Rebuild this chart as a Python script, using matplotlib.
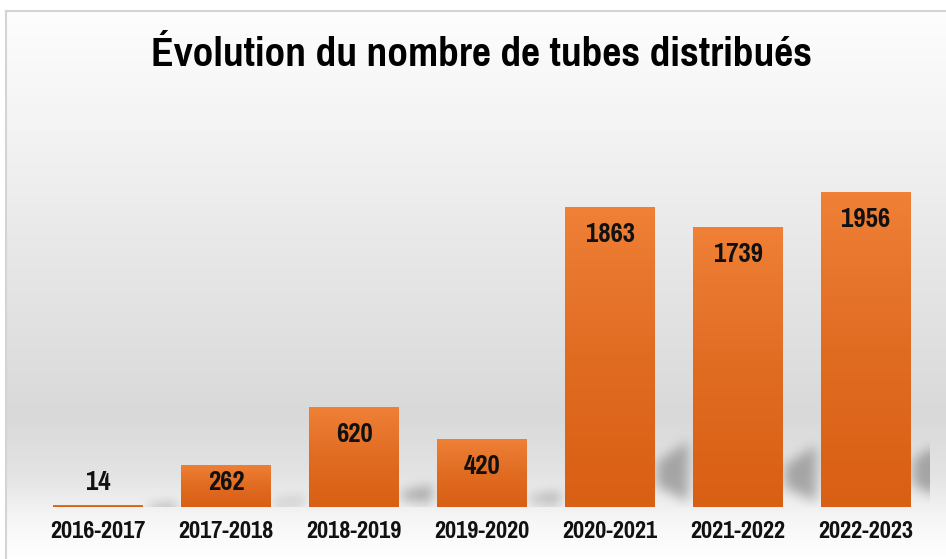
import numpy as np
import matplotlib
matplotlib.use('Agg')
import matplotlib.pyplot as plt
from matplotlib.patches import Rectangle
from matplotlib.path import Path
from matplotlib.colors import LinearSegmentedColormap

# données
saisons = ['2016-2017', '2017-2018', '2018-2019', '2019-2020',
           '2020-2021', '2021-2022', '2022-2023']
tubes = [14, 262, 620, 420, 1863, 1739, 1956]
titre = 'Évolution du nombre de tubes distribués'

W, H = 946, 559
police = ['Pragati Narrow', 'Archivo Narrow', 'DejaVu Sans']


def flou(a, r, n=3):
    # flou en boîte répété (approche gaussienne)
    for _ in range(n):
        for ax_ in (0, 1):
            p = np.pad(a, [(r, r) if k == ax_ else (0, 0) for k in range(2)], mode='edge')
            c = np.cumsum(p, axis=ax_)
            c = np.insert(c, 0, 0, axis=ax_)
            if ax_ == 0:
                a = (c[2 * r + 1:, :] - c[:-2 * r - 1, :]) / (2 * r + 1)
            else:
                a = (c[:, 2 * r + 1:] - c[:, :-2 * r - 1]) / (2 * r + 1)
    return a


fig = plt.figure(figsize=(W / 100, H / 100), dpi=100)
fig.patch.set_facecolor('white')

# fond dégradé avec cadre gris
bg = fig.add_axes([6 / W, 0, 1 - 6 / W, (H - 11) / H], zorder=-5)
stops = [(0.0, '#fdfdfd'), (0.18, '#f5f5f5'), (0.45, '#e7e7e7'),
         (0.74, '#d9d9d9'), (0.85, '#e4e4e4'), (0.93, '#f6f6f6'), (1.0, '#ffffff')]
cm_bg = LinearSegmentedColormap.from_list('bg', stops)
bg.imshow(np.linspace(0, 1, 256).reshape(-1, 1), aspect='auto', cmap=cm_bg,
          extent=[0, 1, 1, 0])
bg.set_xlim(0, 1)
bg.set_ylim(1, 0)
bg.set_xticks([])
bg.set_yticks([])
for s in ['right', 'bottom']:
    bg.spines[s].set_visible(False)
for s in ['left', 'top']:
    bg.spines[s].set_color('#d4d4d4')
    bg.spines[s].set_linewidth(1.5)

# axes du graphique
aw, ah = 896, 338
ax = fig.add_axes([34 / W, 52 / H, aw / W, ah / H])
xmin, xmax, ymax = -0.5, len(saisons) - 0.5, 2100
ax.set_xlim(xmin, xmax)
ax.set_ylim(0, ymax)
ax.axis('off')

larg = 0.7
x = np.arange(len(saisons))

# ombres portées
gx = xmin + (np.arange(aw) + 0.5) / aw * (xmax - xmin)
gy = ymax - (np.arange(ah) + 0.5) / ah * ymax
GX, GY = np.meshgrid(gx, gy)
pts = np.column_stack([GX.ravel(), GY.ravel()])
masque = np.zeros(aw * ah)
for i, v in zip(x, tubes):
    xr = i + larg / 2
    poly = Path([(xr + 0.02, 0.15 * v), (xr + 0.26, 0.22 * v),
                 (xr + 0.26, 0.005 * v + 25), (xr + 0.02, 0.07 * v)])
    masque[poly.contains_points(pts)] = 1.0
masque = flou(masque.reshape(ah, aw), 5)
ombre = np.zeros((ah, aw, 4))
ombre[..., :3] = 0.45
ombre[..., 3] = np.clip(masque * 0.55, 0, 1)
ax.imshow(ombre, extent=[xmin, xmax, 0, ymax], aspect='auto', zorder=1,
          interpolation='bilinear')

cm_bar = LinearSegmentedColormap.from_list('bar', ['#ef8036', '#e06c22', '#d95f14'])
for i, v in zip(x, tubes):
    rect = Rectangle((i - larg / 2, 0), larg, v, facecolor='none',
                     edgecolor='none', zorder=2)
    ax.add_patch(rect)
    im = ax.imshow(np.linspace(0, 1, 100).reshape(-1, 1), aspect='auto',
                   cmap=cm_bar, extent=[i - larg / 2, i + larg / 2, 0, v],
                   origin='upper', zorder=2)
    im.set_clip_path(rect)
    ax.text(i, max(v - 168, 155), str(v), ha='center', va='center',
            fontsize=21, fontweight='bold', family=police, color='#111111',
            zorder=3)
    ax.text(i, -155, saisons[i], ha='center', va='center', fontsize=19,
            fontweight='bold', family=police, color='#111111')

ax.set_xlim(xmin, xmax)
ax.set_ylim(0, ymax)

fig.text(481 / W, 1 - 55 / H, titre, ha='center', va='center', fontsize=32.5,
         fontweight='bold', family=police, color='#000000')

fig.savefig('out.png', dpi=100)
